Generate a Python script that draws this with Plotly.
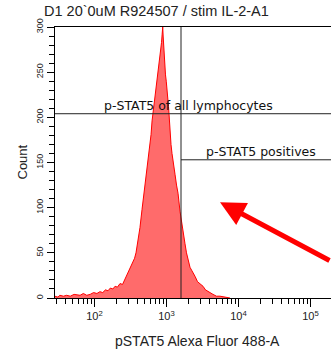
import plotly.graph_objects as go

# ---- data ----
intensity = [28, 31, 33, 37, 41, 46, 52, 58, 63, 70, 78, 87, 97, 108, 119, 130, 142, 154, 166, 180,
             193, 208, 226, 245, 265, 288, 311, 327, 343, 360, 377, 402, 428, 457, 487, 511, 536, 554,
             572, 590, 610, 630, 650, 671, 693, 715, 738, 762, 787, 800, 813, 833, 853, 870, 886, 898,
             909, 923, 945, 968, 992, 1016, 1032, 1049, 1066, 1083, 1101, 1119, 1155, 1192, 1250, 1312,
             1378, 1445, 1540, 1641, 1720, 1807, 1895, 1990, 2120, 2261, 2370, 2490, 2700, 2918, 3060,
             3213, 3480, 3770, 4080, 4424, 4950, 5534, 6500, 7614]
counts = [2, 1, 3, 2, 3, 2, 4, 3, 3, 5, 3, 4, 6, 5, 7, 6, 9, 8, 11, 10,
          13, 12, 16, 15, 21, 26, 32, 36, 41, 44, 50, 62, 78, 98, 117, 128, 142, 150,
          160, 175, 181, 196, 205, 214, 222, 226, 236, 244, 254, 258, 266, 272, 283, 292, 300, 290,
          282, 265, 258, 247, 240, 233, 226, 219, 212, 204, 192, 182, 170, 160, 146, 137,
          125, 116, 96, 80, 68, 60, 50, 44, 34, 30, 26, 24, 18, 16, 14,
          13, 9, 7, 5, 4, 2, 2, 1, 0]

x_major_vals = [100, 1000, 10000, 100000]
x_major_text = ["10<sup>2</sup>", "10<sup>3</sup>", "10<sup>4</sup>", "10<sup>5</sup>"]
x_minor_vals = [m * 10 ** k for k in range(1, 6) for m in range(2, 10)]
y_tick_vals = [0, 50, 100, 150, 200, 250, 300]

gate_pos_x = 1590          # vertical gate
gate_all_y = 204           # "p-STAT5 of all lymphocytes"
gate_pos_y = 153           # "p-STAT5 positives"

title = "D1 20`0uM R924507 / stim IL-2-A1"
x_title = "pSTAT5 Alexa Fluor 488-A"
y_title = "Count"
label_all = "p-STAT5 of all lymphocytes"
label_pos = "p-STAT5 positives"

fig = go.Figure()
fig.add_trace(go.Scatter(
    x=intensity, y=counts, mode="lines", fill="tozeroy",
    line=dict(color="#ff0000", width=1), fillcolor="#ff6b6b", hoverinfo="skip",
))

line_col = "#222222"
fig.add_shape(type="line", xref="x", yref="y", x0=gate_pos_x, x1=gate_pos_x, y0=0, y1=300,
              line=dict(color=line_col, width=1))
fig.add_shape(type="line", xref="paper", yref="y", x0=0, x1=1, y0=gate_all_y, y1=gate_all_y,
              line=dict(color=line_col, width=1))
fig.add_shape(type="line", xref="x", yref="y", x0=gate_pos_x, x1=200000, y0=gate_pos_y, y1=gate_pos_y,
              line=dict(color=line_col, width=1))

gate_font = dict(family="DejaVu Sans", size=12.5, color="#111")
fig.add_annotation(x=3.299, y=gate_all_y, xref="x", yref="y", text=label_all,
                   showarrow=False, yanchor="bottom", yshift=-1, font=gate_font)
fig.add_annotation(x=4.313, y=gate_pos_y, xref="x", yref="y", text=label_pos,
                   showarrow=False, yanchor="bottom", yshift=-1, font=gate_font)

# red arrow
fig.add_annotation(x=3.743, y=106, xref="x", yref="y", ax=125, ay=59, axref="pixel", ayref="pixel",
                   text="", showarrow=True, arrowhead=2, arrowsize=1, arrowwidth=5,
                   arrowcolor="#ff0000")

# title and axis titles
fig.add_annotation(x=-0.047, y=1.0, xref="paper", yref="paper", yanchor="bottom", xanchor="left",
                   yshift=6, text=title, showarrow=False,
                   font=dict(family="Liberation Sans", size=14.5, color="#222"))
fig.add_annotation(x=0.5, y=0, xref="paper", yref="paper", yanchor="middle", xanchor="center",
                   yshift=-43, xshift=4, text=x_title, showarrow=False,
                   font=dict(family="Liberation Sans", size=14, color="#222"))
fig.add_annotation(x=0, y=0.5, xref="paper", yref="paper", xanchor="center", yanchor="middle",
                   xshift=-33, text=y_title, textangle=-90, showarrow=False,
                   font=dict(family="Liberation Sans", size=13, color="#222"))

fig.update_layout(
    width=331, height=352, margin=dict(l=55, r=0, t=27, b=54),
    paper_bgcolor="white", plot_bgcolor="white", showlegend=False,
    font=dict(family="Liberation Sans", color="#222"),
)
fig.update_xaxes(
    type="log", range=[1.451, 5.285], showgrid=False, zeroline=False,
    showline=True, linecolor="#000", linewidth=1, mirror=True,
    tickmode="array", tickvals=x_major_vals, ticktext=x_major_text,
    ticks="outside", ticklen=8, tickcolor="#000", tickfont=dict(size=11),
    minor=dict(tickmode="array", tickvals=x_minor_vals, ticks="outside", ticklen=5, tickcolor="#000"),
)
fig.update_yaxes(
    range=[0, 300], showgrid=False, zeroline=False,
    showline=True, linecolor="#000", linewidth=1,
    tickmode="array", tickvals=y_tick_vals,
    ticks="outside", ticklen=7, tickcolor="#000", tickangle=-90, tickfont=dict(size=9),
    minor=dict(dtick=10, ticks="outside", ticklen=5, tickcolor="#000"),
)

fig.write_html("out.html")
